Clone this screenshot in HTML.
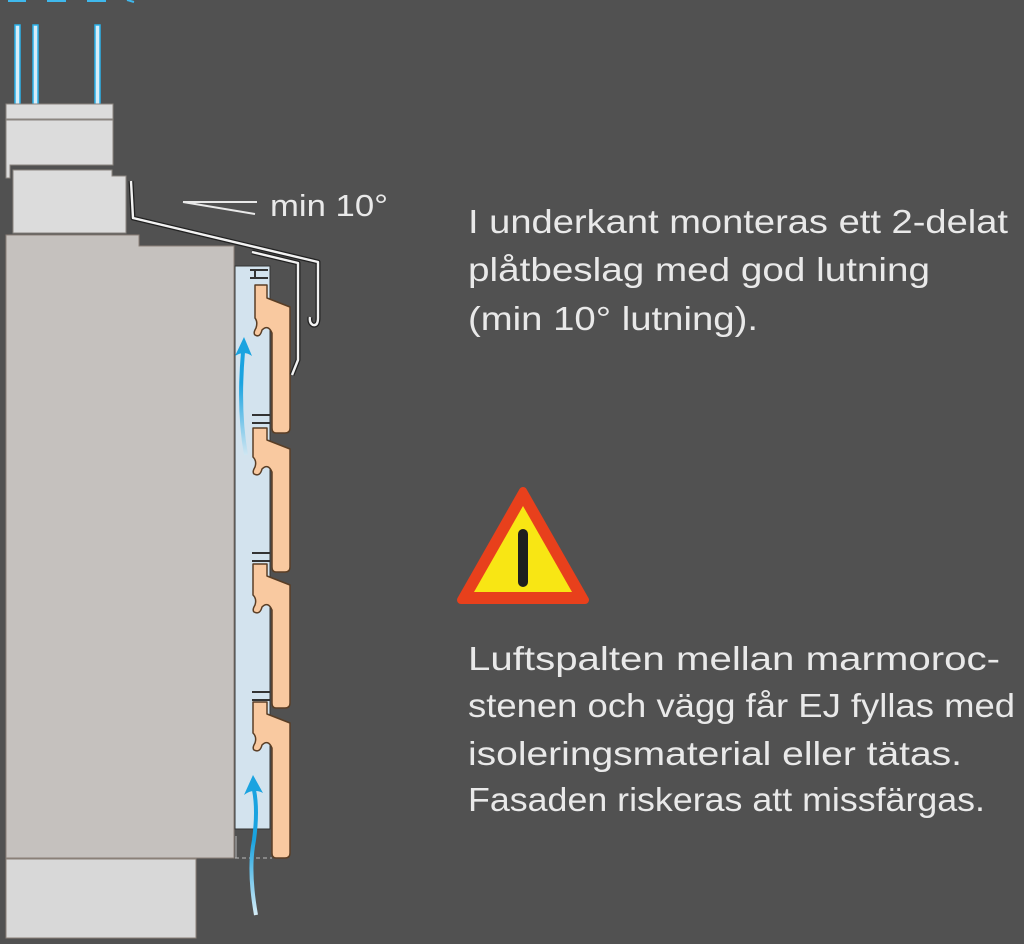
<!DOCTYPE html>
<html><head><meta charset="utf-8"><style>
html,body{margin:0;padding:0;background:#515151;}
svg{display:block}
text{font-family:"Liberation Sans",sans-serif;fill:#e9e9e9;}
</style></head><body>
<svg width="1024" height="944" viewBox="0 0 1024 944" xmlns="http://www.w3.org/2000/svg">
<defs>
<linearGradient id="ga" x1="0" y1="1" x2="0" y2="0">
<stop offset="0" stop-color="#d6ecf7"/><stop offset="0.6" stop-color="#1aa3e0"/><stop offset="1" stop-color="#1aa3e0"/>
</linearGradient>
<linearGradient id="gb" x1="0" y1="1" x2="0" y2="0">
<stop offset="0" stop-color="#cfe6f2"/><stop offset="0.7" stop-color="#1aa3e0"/><stop offset="1" stop-color="#1aa3e0"/>
</linearGradient>
</defs>
<rect width="1024" height="944" fill="#515151"/>
<g stroke="#3fb8ec" stroke-width="2">
<line x1="8" y1="1" x2="26" y2="1"/><line x1="47" y1="1" x2="66" y2="1"/><line x1="87" y1="1" x2="106" y2="1"/><line x1="127" y1="0" x2="134" y2="2"/>
</g>
<g fill="#d6ecf7" stroke="#2bb2ea" stroke-width="1.5">
<rect x="15" y="25" width="5" height="86"/><rect x="33" y="25" width="5" height="86"/><rect x="95" y="25" width="5" height="86"/>
</g>
<rect x="6" y="104" width="107" height="15" fill="#dcdcdc" stroke="#8a8580" stroke-width="1"/>
<path d="M6 120 H113 V165 H10 V178 H6 Z" fill="#dcdcdc" stroke="#8a8580" stroke-width="1"/>
<path d="M13 170 H112 V176 H126 V233 H13 Z" fill="#dcdcdc" stroke="#8a8580" stroke-width="1"/>
<path d="M6 235 H139 V246 H234 V858 H6 Z" fill="#c5c1be" stroke="#8a8078" stroke-width="1"/>
<rect x="6" y="859" width="190" height="79" fill="#d8d8d8" stroke="#8a8078" stroke-width="1"/>
<rect x="235" y="266" width="35" height="563" fill="#d3e3ee" stroke="#333" stroke-width="1"/>
<line x1="235" y1="858" x2="272" y2="858" stroke="#bbb" stroke-width="1" stroke-dasharray="4,3"/>
<line x1="236" y1="836" x2="236" y2="858" stroke="#bbb" stroke-width="1"/>
<g stroke="#333" stroke-width="2" fill="none">
<path d="M250 270 H268 M255 270 V278 M250 278 H268"/>
<path d="M252 415 H270 M252 423 H270"/>
<path d="M252 553 H270 M252 561 H270"/>
<path d="M252 692 H270 M252 700 H270"/>
</g>
<g fill="#f9c9a0" stroke="#5a3e25" stroke-width="1.5" stroke-linejoin="round">
<path d="M255 285 H267 V298 L290 307 V428 Q290 433 285 433 H276 Q272 433 272 428 V333 Q268 324 262 330 Q260 338 255 335 Q253 333 256 328 Q258 322 255 318 Z"/>
<path d="M253 428 H267 V440 L290 449 V567 Q290 572 285 572 H276 Q272 572 272 567 V472 Q268 463 262 469 Q260 477 254 474 Q252 472 255 467 Q257 461 253 457 Z"/>
<path d="M253 564 H267 V576 L290 585 V703 Q290 708 285 708 H276 Q272 708 272 703 V610 Q268 601 262 607 Q260 615 254 612 Q252 610 255 605 Q257 599 253 595 Z"/>
<path d="M253 702 H267 V714 L290 723 V853 Q290 858 285 858 H276 Q272 858 272 853 V748 Q268 739 262 745 Q260 753 254 750 Q252 748 255 743 Q257 737 253 733 Z"/>
</g>
<g fill="none" stroke-linejoin="round">
<path d="M131 181 L133 218 L318 262 V318 Q318 326 313 325 Q309 323 310 317" stroke="#222" stroke-width="5"/>
<path d="M131 181 L133 218 L318 262 V318 Q318 326 313 325 Q309 323 310 317" stroke="#f2f2f2" stroke-width="2.4"/>
<path d="M252 252 L298 263 V360 L292 375" stroke="#222" stroke-width="5"/>
<path d="M252 252 L298 263 V360 L292 375" stroke="#f2f2f2" stroke-width="2.4"/>
</g>
<g stroke="#e9e9e9" stroke-width="2" fill="none">
<line x1="183" y1="202" x2="257" y2="202"/><line x1="183" y1="202" x2="255" y2="214"/>
</g>
<text x="270" y="216" font-size="31" textLength="118" lengthAdjust="spacingAndGlyphs">min 10°</text>
<path d="M246 455 Q238 410 243 352" stroke="url(#gb)" stroke-width="4" fill="none"/>
<path d="M235 356 L244 337 L252 356 Q244 350 235 356 Z" fill="#1aa3e0"/>
<path d="M256 915 Q248 870 254 840 Q258 810 254 790" stroke="url(#ga)" stroke-width="4" fill="none"/>
<path d="M244 795 L253 775 L263 793 Q253 788 244 795 Z" fill="#1aa3e0"/>
<path d="M523 491 L585 600 H461 Z" fill="#e8401c" stroke="#e8401c" stroke-width="8" stroke-linejoin="round"/>
<path d="M523 506 L572 592 H474 Z" fill="#f8e614"/>
<line x1="523" y1="534" x2="523" y2="582" stroke="#1e1e1e" stroke-width="10" stroke-linecap="round"/>
<g font-size="33">
<text x="468" y="233" textLength="540" lengthAdjust="spacingAndGlyphs">I underkant monteras ett 2-delat</text>
<text x="468" y="281" textLength="462" lengthAdjust="spacingAndGlyphs">plåtbeslag med god lutning</text>
<text x="468" y="330" textLength="290" lengthAdjust="spacingAndGlyphs">(min 10° lutning).</text>
<text x="468" y="670" textLength="532" lengthAdjust="spacingAndGlyphs">Luftspalten mellan marmoroc-</text>
<text x="468" y="717" textLength="547" lengthAdjust="spacingAndGlyphs">stenen och vägg får EJ fyllas med</text>
<text x="468" y="765" textLength="494" lengthAdjust="spacingAndGlyphs">isoleringsmaterial eller tätas.</text>
<text x="468" y="811" textLength="517" lengthAdjust="spacingAndGlyphs">Fasaden riskeras att missfärgas.</text>
</g>
</svg>
</body></html>
